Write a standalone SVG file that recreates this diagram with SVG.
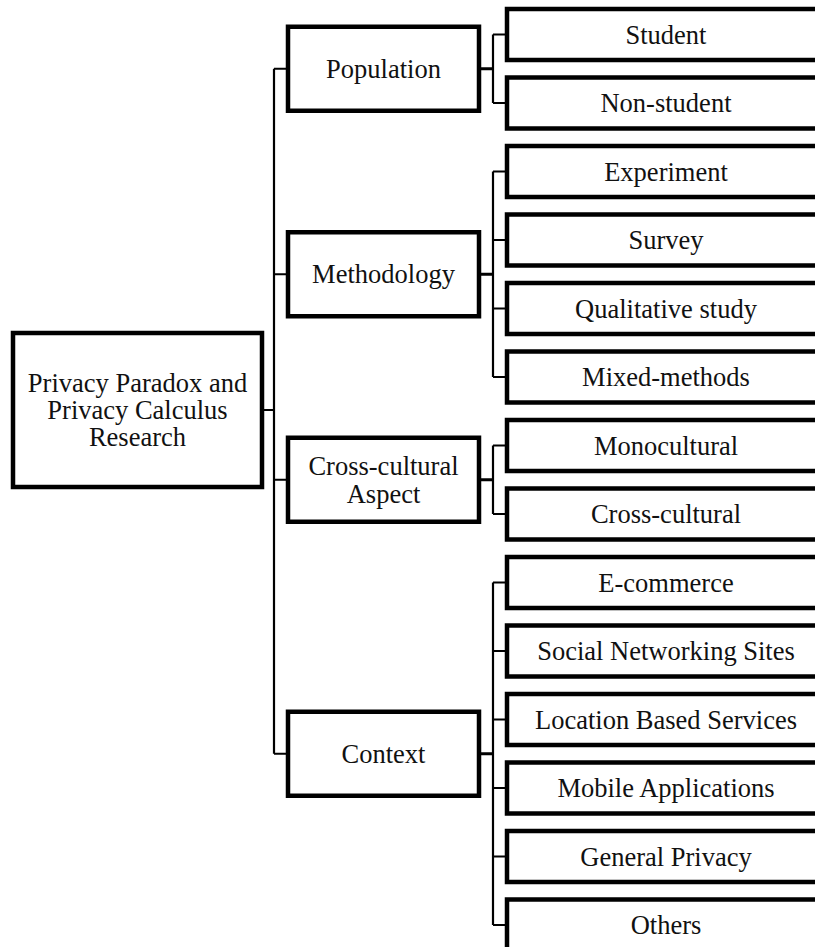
<svg xmlns="http://www.w3.org/2000/svg" width="815" height="947" viewBox="0 0 815 947">
<style>
.box{fill:#fff;stroke:#000;stroke-width:4.5}
text{font-family:'Liberation Serif','Times New Roman',Times,serif;font-size:26.5px;fill:#111;text-anchor:middle}
.c{fill:none;stroke:#000;stroke-width:2.2}
.s{fill:none;stroke:#000;stroke-width:3.2}
</style>
<rect width="815" height="947" fill="#fff"/>
<g id="connectors">
<path class="c" d="M262 410H274M274 68.75V753.75M274 68.75H288M274 274.25H288M274 479.75H288M274 753.75H288"/>
<path class="s" d="M479 68.75H493M479 274.25H493M479 479.75H493M479 753.75H493"/>
<path class="c" d="M493 34.5V103M493 34.5H507M493 103H507"/>
<path class="c" d="M493 171.5V377M493 171.5H507M493 240H507M493 308.5H507M493 377H507"/>
<path class="c" d="M493 445.5V514M493 445.5H507M493 514H507"/>
<path class="c" d="M493 582.5V925M493 582.5H507M493 651H507M493 719.5H507M493 788H507M493 856.5H507M493 925H507"/>
</g>
<g font-family="Liberation Serif, serif">
<g id="root">
<rect class="box" x="13" y="333" width="249" height="154"/>
<text x="137.5" y="392">Privacy Paradox and</text>
<text x="137.5" y="419">Privacy Calculus</text>
<text x="137.5" y="446">Research</text>
</g>
<g id="population"><rect class="box" x="288" y="26.75" width="191" height="84"/><text x="383.5" y="77.5">Population</text></g>
<g id="methodology"><rect class="box" x="288" y="232.25" width="191" height="84"/><text x="383.5" y="283">Methodology</text></g>
<g id="crosscultural-aspect"><rect class="box" x="288" y="437.75" width="191" height="84"/><text x="383.5" y="474.5">Cross-cultural</text><text x="383.5" y="502.5">Aspect</text></g>
<g id="context"><rect class="box" x="288" y="711.75" width="191" height="84"/><text x="383.5" y="762.5">Context</text></g>
<g id="student"><rect class="box" x="507" y="9" width="318" height="51"/><text x="666" y="43.5">Student</text></g>
<g id="nonstudent"><rect class="box" x="507" y="77.5" width="318" height="51"/><text x="666" y="112">Non-student</text></g>
<g id="experiment"><rect class="box" x="507" y="146" width="318" height="51"/><text x="666" y="180.5">Experiment</text></g>
<g id="survey"><rect class="box" x="507" y="214.5" width="318" height="51"/><text x="666" y="249">Survey</text></g>
<g id="qualitative"><rect class="box" x="507" y="283" width="318" height="51"/><text x="666" y="317.5">Qualitative study</text></g>
<g id="mixed"><rect class="box" x="507" y="351.5" width="318" height="51"/><text x="666" y="386">Mixed-methods</text></g>
<g id="monocultural"><rect class="box" x="507" y="420" width="318" height="51"/><text x="666" y="454.5">Monocultural</text></g>
<g id="crosscultural"><rect class="box" x="507" y="488.5" width="318" height="51"/><text x="666" y="523">Cross-cultural</text></g>
<g id="ecommerce"><rect class="box" x="507" y="557" width="318" height="51"/><text x="666" y="591.5">E-commerce</text></g>
<g id="sns"><rect class="box" x="507" y="625.5" width="318" height="51"/><text x="666" y="660">Social Networking Sites</text></g>
<g id="lbs"><rect class="box" x="507" y="694" width="318" height="51"/><text x="666" y="728.5">Location Based Services</text></g>
<g id="mobile"><rect class="box" x="507" y="762.5" width="318" height="51"/><text x="666" y="797">Mobile Applications</text></g>
<g id="general"><rect class="box" x="507" y="831" width="318" height="51"/><text x="666" y="865.5">General Privacy</text></g>
<g id="others"><rect class="box" x="507" y="899.5" width="318" height="51"/><text x="666" y="934">Others</text></g>
</g>
</svg>
